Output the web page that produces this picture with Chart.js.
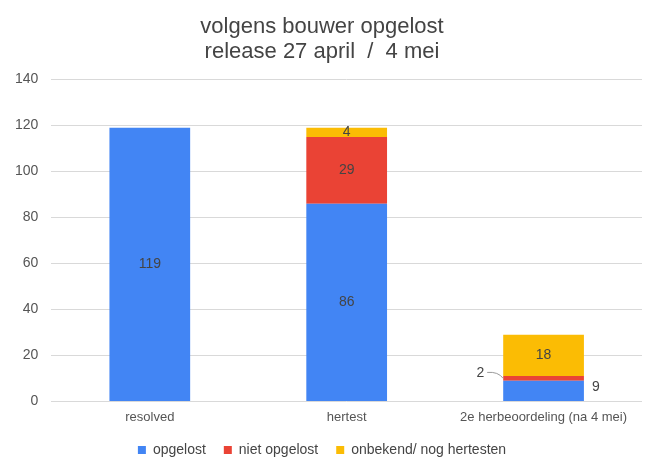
<!DOCTYPE html>
<html lang="nl">
<head>
    <meta charset="UTF-8">
    <title>volgens bouwer opgelost</title>
    <script src="https://cdn.jsdelivr.net/npm/chart.js"></script>
    <style>
        html, body {
            margin: 0;
            padding: 0;
            background: #ffffff;
        }
        .chart-box {
            width: 646px;
            height: 462px;
        }
    </style>
</head>
<body>
    <div class="chart-box">
        <canvas id="releaseChart"></canvas>
    </div>

    <script>
        // data
        const categories = ['resolved', 'hertest', '2e herbeoordeling (na 4 mei)'];
        const seriesNames = ['opgelost', 'niet opgelost', 'onbekend/ nog hertesten'];
        const opgelost = [119, 86, 9];
        const nietOpgelost = [0, 29, 2];
        const onbekend = [0, 4, 18];
        const yTicks = [0, 20, 40, 60, 80, 100, 120, 140];

        const colors = ['#4285f4', '#ea4335', '#fbbc04'];
        const textColor = '#555555';
        const fontFamily = '"Liberation Sans", Arial, sans-serif';

        // draws the value labels; small segments of a short stack go outside the bar
        const valueLabels = {
            id: 'valueLabels',
            afterDatasetsDraw(chart) {
                const ctx = chart.ctx;
                ctx.save();
                ctx.font = '14px ' + fontFamily;
                ctx.fillStyle = '#444444';
                ctx.textBaseline = 'middle';
                chart.data.datasets.forEach((ds, di) => {
                    const meta = chart.getDatasetMeta(di);
                    meta.data.forEach((bar, i) => {
                        const v = ds.data[i];
                        if (!v) return;
                        const total = chart.data.datasets.reduce((s, d) => s + d.data[i], 0);
                        const midY = (bar.y + bar.base) / 2;
                        const half = bar.width / 2;
                        if (total < 40 && v < 10) {
                            if (di === 0) {
                                ctx.textAlign = 'left';
                                ctx.fillText(String(v), bar.x + half + 8, midY - 4);
                            } else {
                                ctx.textAlign = 'right';
                                ctx.fillText(String(v), bar.x - half - 19, midY - 5);
                                ctx.strokeStyle = '#999999';
                                ctx.lineWidth = 1;
                                ctx.beginPath();
                                ctx.moveTo(bar.x - half - 16, midY - 6);
                                ctx.quadraticCurveTo(bar.x - half - 5, midY - 7, bar.x - half, midY);
                                ctx.stroke();
                            }
                        } else {
                            ctx.textAlign = 'center';
                            ctx.fillText(String(v), bar.x, midY);
                        }
                    });
                });
                ctx.restore();
            }
        };

        const ctxRelease = document.getElementById('releaseChart').getContext('2d');

        const releaseChart = new Chart(ctxRelease, {
            type: 'bar',
            data: {
                labels: categories,
                datasets: [opgelost, nietOpgelost, onbekend].map((values, k) => ({
                    label: seriesNames[k],
                    data: values,
                    backgroundColor: colors[k],
                    borderWidth: 0,
                    barPercentage: 0.41,
                    categoryPercentage: 1.0
                }))
            },
            options: {
                responsive: true,
                maintainAspectRatio: false,
                animation: false,
                layout: {
                    padding: { left: 2, right: 4, top: 0, bottom: -5 }
                },
                plugins: {
                    title: {
                        display: true,
                        text: ['volgens bouwer opgelost', 'release 27 april  /  4 mei'],
                        color: '#444444',
                        font: { family: fontFamily, size: 22, weight: 'normal', lineHeight: 1.15 },
                        padding: { top: 14, bottom: 15 }
                    },
                    legend: {
                        position: 'bottom',
                        labels: {
                            color: '#444444',
                            font: { family: fontFamily, size: 14 },
                            boxWidth: 8,
                            boxHeight: 8,
                            padding: 18
                        }
                    },
                    tooltip: { enabled: false }
                },
                scales: {
                    x: {
                        stacked: true,
                        grid: { display: false },
                        border: { display: false },
                        ticks: {
                            color: textColor,
                            font: { family: fontFamily, size: 13 },
                            padding: 0,
                            maxRotation: 0
                        }
                    },
                    y: {
                        stacked: true,
                        min: 0,
                        max: 140,
                        afterBuildTicks(axis) {
                            axis.ticks = yTicks.map(v => ({ value: v }));
                        },
                        grid: { color: '#d9d9d9', drawTicks: false },
                        border: { display: false },
                        ticks: {
                            color: textColor,
                            font: { family: fontFamily, size: 14 },
                            padding: 13
                        }
                    }
                }
            },
            plugins: [valueLabels]
        });
    </script>
</body>
</html>
